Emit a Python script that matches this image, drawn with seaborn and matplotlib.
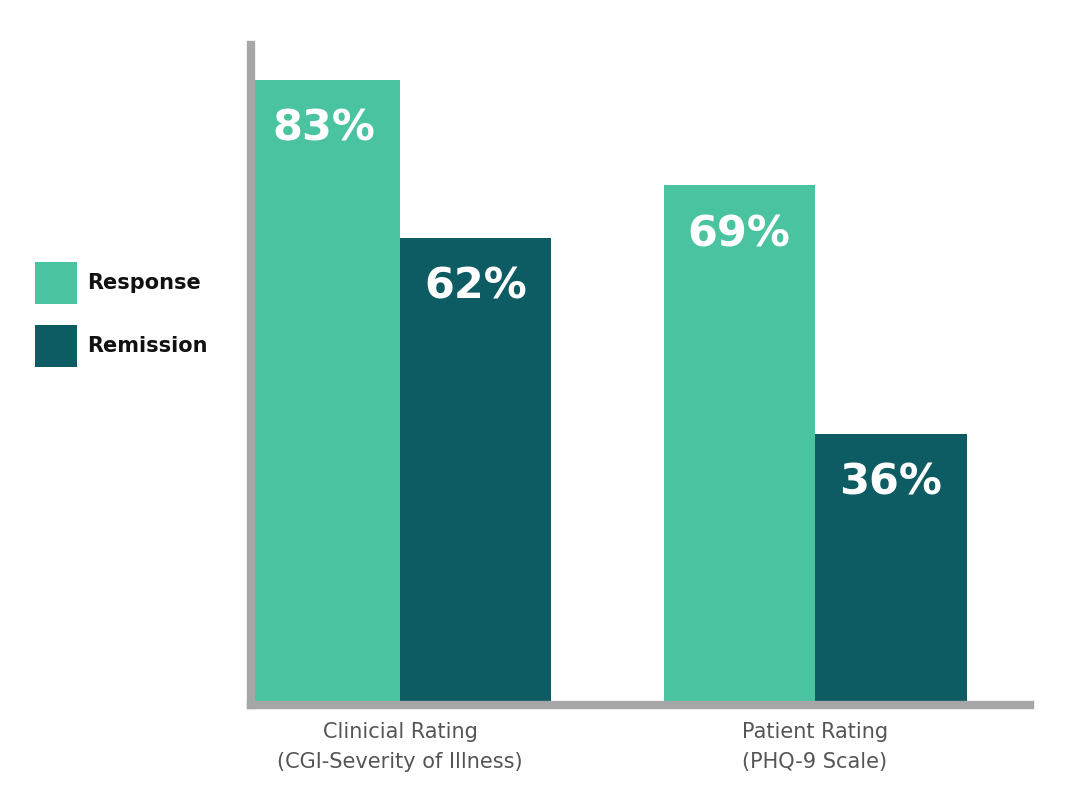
import pandas as pd
import seaborn as sns
from matplotlib import pyplot as plt

categories = ['Clinicial Rating\n(CGI-Severity of Illness)', 'Patient Rating\n(PHQ-9 Scale)']
series = ['Response', 'Remission']
response = [83, 69]
remission = [62, 36]
colors = ['#49C3A0', '#0E5C63']

df = pd.DataFrame({
    'category': categories * 2,
    'measure': ['Response'] * 2 + ['Remission'] * 2,
    'value': response + remission,
})

sns.set_style('white')
plt.rcParams['font.family'] = ['DejaVu Sans']

fig = plt.figure(figsize=(10.8, 8.1), dpi=100)
ax = fig.add_axes([251 / 1080, 1 - 705 / 810, (1030 - 251) / 1080, (705 - 45) / 810])

sns.barplot(data=df, x='category', y='value', hue='measure', hue_order=series,
            palette=colors, width=0.73, saturation=1, ax=ax, linewidth=0)

ax.set_xlim(-0.359, 1.518)
ax.set_ylim(0, 87.65)
ax.set_xlabel('')
ax.set_ylabel('')
ax.set_yticks([])
ax.tick_params(axis='x', length=0, pad=12, labelsize=15, labelcolor='#555555')
for lbl in ax.get_xticklabels():
    lbl.set_linespacing(1.65)

for side in ['top', 'right']:
    ax.spines[side].set_visible(False)
for side in ['left', 'bottom']:
    ax.spines[side].set_color('#A6A6A6')
    ax.spines[side].set_linewidth(6)

for cont in ax.containers:
    for bar in cont:
        h = bar.get_height()
        ax.annotate(f'{h:.0f}%', (bar.get_x() + bar.get_width() / 2, h),
                    xytext=(0, -35), textcoords='offset points',
                    ha='center', va='center', color='white',
                    fontsize=31, fontweight='bold')

handles, labels = ax.get_legend_handles_labels()
ax.get_legend().remove()
fig.legend(handles, labels, loc='upper left', bbox_to_anchor=(35 / 1080, 1 - 262 / 810),
           frameon=False, borderpad=0, borderaxespad=0,
           handlelength=2.0, handleheight=2.73, labelspacing=1.0, handletextpad=0.5,
           labelcolor='#111111', prop={'size': 15, 'weight': 'bold'})

fig.savefig('out.png', dpi=100)
